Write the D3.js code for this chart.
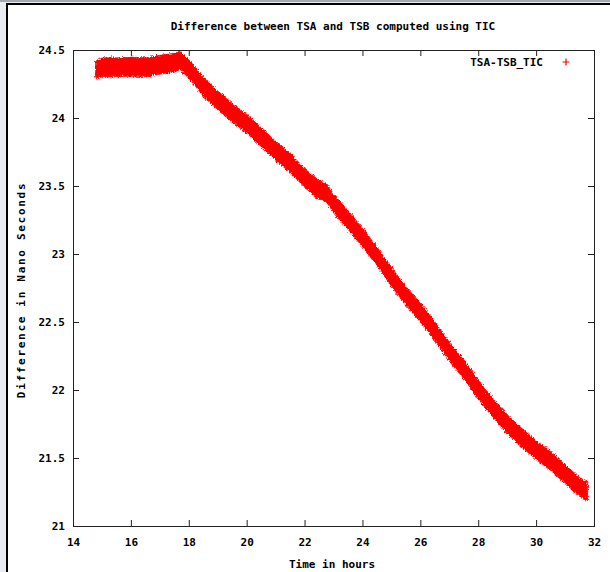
<!DOCTYPE html>
<html>
<head>
<meta charset="utf-8">
<script src="https://cdn.jsdelivr.net/npm/d3@7"></script>
<style>
  html, body { margin: 0; padding: 0; background: #fff; }
  svg { display: block; }
  text { font-family: "DejaVu Sans Mono", "Liberation Mono", monospace; font-weight: bold; font-size: 11px; fill: #000; }
</style>
</head>
<body>
<svg id="chart" width="610" height="572"></svg>
<script>
// ---- data ----
const hours = [14.74, 15.0, 15.5, 16.0, 16.5, 17.0, 17.5, 17.64, 18.0, 18.5, 19.0, 19.5, 20.0, 20.5,
  21.0, 21.5, 22.0, 22.4, 22.75, 23.0, 23.5, 24.0, 24.5, 25.0, 25.5, 26.0, 26.5, 27.0, 27.5,
  28.0, 28.5, 29.0, 29.5, 30.0, 30.5, 31.0, 31.5, 31.75];
// upper and lower edge of the dense point band (ns)
const upperEdge = [24.43, 24.45, 24.45, 24.455, 24.45, 24.47, 24.485, 24.5, 24.43, 24.30, 24.20, 24.11, 24.03, 23.93,
  23.83, 23.74, 23.63, 23.56, 23.52, 23.44, 23.32, 23.19, 23.05, 22.90, 22.76, 22.64, 22.50, 22.35, 22.22,
  22.07, 21.94, 21.82, 21.72, 21.63, 21.55, 21.45, 21.36, 21.33];
const lowerEdge = [24.30, 24.31, 24.31, 24.315, 24.31, 24.33, 24.345, 24.37, 24.29, 24.16, 24.06, 23.97, 23.89, 23.79,
  23.69, 23.60, 23.49, 23.42, 23.38, 23.30, 23.18, 23.05, 22.91, 22.76, 22.62, 22.50, 22.36, 22.21, 22.08,
  21.93, 21.80, 21.68, 21.58, 21.49, 21.41, 21.31, 21.22, 21.19];
const xTicks = [14, 16, 18, 20, 22, 24, 26, 28, 30, 32];
const yTicks = [21, 21.5, 22, 22.5, 23, 23.5, 24, 24.5];
const seriesName = "TSA-TSB_TIC";
const titleText = "Difference between TSA and TSB computed using TIC";
const xLabel = "Time in hours";
const yLabel = "Difference in Nano Seconds";

// ---- drawing ----
const svg = d3.select("#chart");
const W = 610, H = 572;
const plot = { left: 73, right: 594, top: 50, bottom: 526 };

// roughening filter to mimic the dense scatter of points along the band edges
const defs = svg.append("defs");
const filt = defs.append("filter").attr("id", "rough")
  .attr("x", "-5%").attr("y", "-5%").attr("width", "110%").attr("height", "110%");
filt.append("feTurbulence").attr("type", "turbulence").attr("baseFrequency", "0.9 0.35")
  .attr("numOctaves", 2).attr("seed", 3).attr("result", "noise");
filt.append("feDisplacementMap").attr("in", "SourceGraphic").attr("in2", "noise")
  .attr("scale", 4).attr("xChannelSelector", "R").attr("yChannelSelector", "G");

// window frame
svg.append("rect").attr("x", 0).attr("y", 0).attr("width", W).attr("height", H).attr("fill", "#e9ecf0");
svg.append("rect").attr("x", 8).attr("y", 5).attr("width", W - 8).attr("height", H - 5).attr("fill", "#fff");
svg.append("rect").attr("x", 0).attr("y", 0).attr("width", W).attr("height", 2).attr("fill", "#a4a8ad");
svg.append("rect").attr("x", 6).attr("y", 3).attr("width", W - 6).attr("height", 2).attr("fill", "#000");
svg.append("rect").attr("x", 6).attr("y", 3).attr("width", 2).attr("height", H - 3).attr("fill", "#000");

const x = d3.scaleLinear().domain([14, 32]).range([plot.left, plot.right]);
const y = d3.scaleLinear().domain([21, 24.5]).range([plot.bottom, plot.top]);

const fmt = d3.format("");

// bottom axis
const gx = svg.append("g").attr("transform", `translate(0,${plot.bottom})`)
  .call(d3.axisBottom(x).tickValues(xTicks).tickSize(-6).tickPadding(12).tickFormat(fmt));
// top axis (ticks only)
const gxt = svg.append("g").attr("transform", `translate(0,${plot.top})`)
  .call(d3.axisTop(x).tickValues(xTicks).tickSize(-6).tickFormat(""));
// left axis
const gy = svg.append("g").attr("transform", `translate(${plot.left},0)`)
  .call(d3.axisLeft(y).tickValues(yTicks).tickSize(-6).tickPadding(8).tickFormat(fmt));
// right axis (ticks only)
const gyr = svg.append("g").attr("transform", `translate(${plot.right},0)`)
  .call(d3.axisRight(y).tickValues(yTicks).tickSize(-6).tickFormat(""));

[gx, gxt, gy, gyr].forEach(g => {
  g.select(".domain").remove();
  g.selectAll(".tick line").attr("stroke", "#222").attr("stroke-width", 1);
  g.selectAll("text").attr("font-family", null).attr("font-size", null).attr("fill", "#000");
});
gy.selectAll(".tick text").attr("dy", "0.36em");

// data band
const bandData = hours.map((h, i) => ({ h, hi: upperEdge[i], lo: lowerEdge[i] }));
const area = d3.area()
  .x(d => x(d.h))
  .y0(d => y(d.lo))
  .y1(d => y(d.hi))
  .curve(d3.curveLinear);
svg.append("path").datum(bandData)
  .attr("d", area)
  .attr("fill", "#ff0000")
  .attr("stroke", "#ff0000")
  .attr("stroke-width", 0.6)
  .attr("stroke-linejoin", "round")
  .attr("filter", "url(#rough)");

// plot border
svg.append("rect")
  .attr("x", plot.left + 0.5).attr("y", plot.top + 0.5)
  .attr("width", plot.right - plot.left).attr("height", plot.bottom - plot.top)
  .attr("fill", "none").attr("stroke", "#222").attr("stroke-width", 1);

// title
svg.append("text").attr("x", 333).attr("y", 30).attr("text-anchor", "middle").text(titleText);
// x label
svg.append("text").attr("x", 332).attr("y", 568).attr("text-anchor", "middle").text(xLabel);
// y label
svg.append("text")
  .attr("transform", `translate(25,290) rotate(-90)`)
  .attr("text-anchor", "middle")
  .style("letter-spacing", "1.7px")
  .text(yLabel);

// legend
svg.append("text").attr("x", 543).attr("y", 66).attr("text-anchor", "end").text(seriesName);
const lx = 566, ly = 62;
svg.append("path")
  .attr("d", `M${lx - 3.5},${ly}H${lx + 3.5}M${lx},${ly - 3.5}V${ly + 3.5}`)
  .attr("stroke", "#ff0000").attr("stroke-width", 1.2);
</script>
</body>
</html>
